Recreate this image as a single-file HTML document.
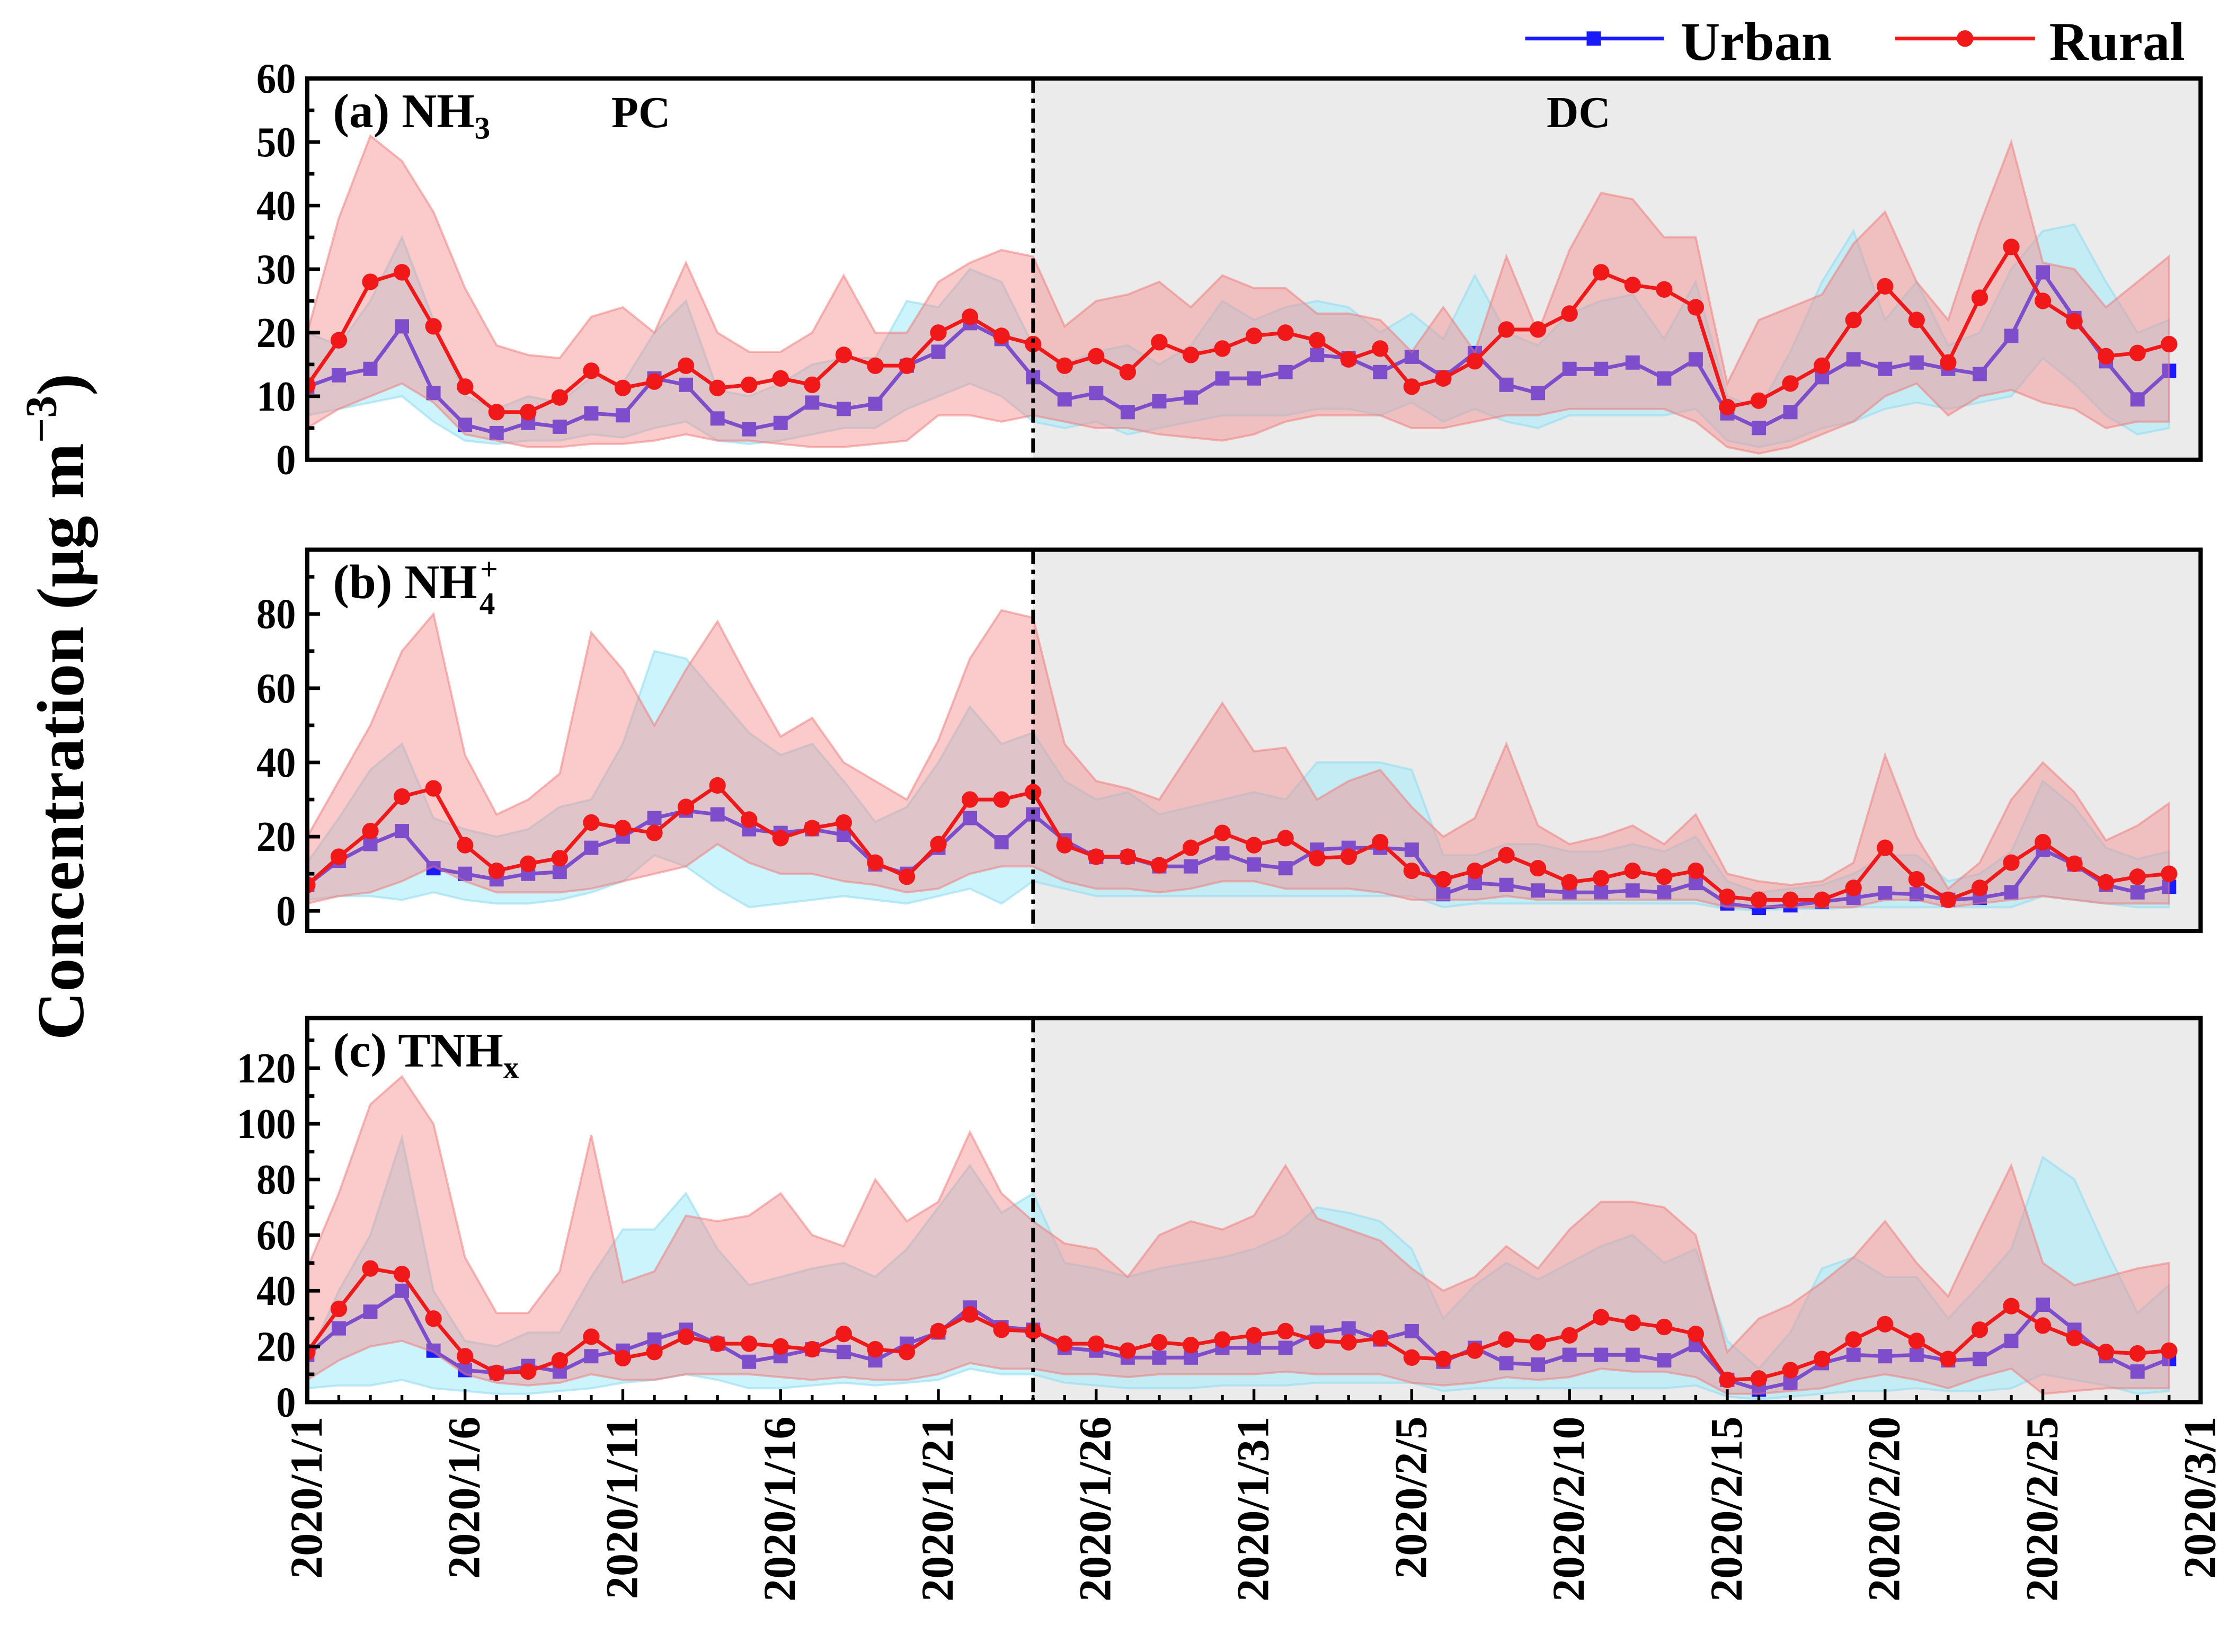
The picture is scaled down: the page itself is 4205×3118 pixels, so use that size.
<!DOCTYPE html>
<html><head><meta charset="utf-8"><style>
html,body{margin:0;padding:0;background:#fff;}
svg{display:block;font-family:"Liberation Serif",serif;font-weight:bold;}
</style></head><body>
<svg id="chart" width="4205" height="3118" viewBox="0 0 1560 1157" xmlns="http://www.w3.org/2000/svg"></svg>
<script>
const dateLabels = ["2020/1/1","2020/1/6","2020/1/11","2020/1/16","2020/1/21","2020/1/26","2020/1/31","2020/2/5","2020/2/10","2020/2/15","2020/2/20","2020/2/25","2020/3/1"];
const nh3Rural = [11.7,18.8,28,29.5,21,11.5,7.5,7.5,9.8,14,11.3,12.3,14.8,11.3,11.8,12.8,11.8,16.5,14.8,14.8,20,22.5,19.5,18.2,14.8,16.3,13.8,18.5,16.5,17.5,19.5,20,18.8,15.8,17.5,11.5,12.8,15.5,20.5,20.5,23,29.5,27.5,26.8,24,8.3,9.3,12,14.8,22,27.3,22,15.3,25.5,33.5,25,21.8,16.3,16.8,18.2];
const nh3Urban = [11.5,13.3,14.3,21,10.5,5.5,4.2,5.8,5.2,7.3,7,12.8,11.8,6.5,4.8,5.8,9,8,8.8,14.8,17,21.5,19,13,9.5,10.5,7.5,9.2,9.8,12.8,12.8,13.8,16.5,16,13.8,16.2,13,16.8,11.8,10.5,14.3,14.3,15.3,12.8,15.8,7.3,5,7.5,13,15.8,14.3,15.3,14.3,13.5,19.5,29.5,22.3,15.5,9.5,14];
const nh3RuralHi = [20,38,51,47,39,27,18,16.5,16,22.5,24,20,31,20,17,17,20,29,20,20,28,31,33,32,21,25,26,28,24,29,27,27,23,23,22,17,24,17,32,20,33,42,41,35,35,12,22,24,26,34,39,28,22,37,50,31,30,24,28,32];
const nh3RuralLo = [5,8,10,12,9,4,3,2,2,2.5,2.5,3,4,3,3,2.5,2,2,2.5,3,7,7,6,7,6,5,5,4,3.5,3,4,6,7,7,7,5,5,6,7,7,8,8,8,8,6,2,1,2,4,6,10,12,7,10,11,9,8,5,6,6];
const nh3UrbanHi = [20,18,25,35,22,10,8,10,9,13,12,20,25,11,10,12,15,16,16,25,24,30,28,18,15,17,18,15,18,25,22,24,25,24,20,23,19,29,20,18,23,25,26,19,28,10,8,17,28,36,22,28,18,20,30,36,37,28,20,22];
const nh3UrbanLo = [7,8,9,10,6,3,2.5,3,3,4,3.5,5,6,3,2.5,3,4,5,5,8,10,12,10,6,5,6,4,5,6,7,7,7,8,8,7,9,6,8,6,5,7,7,7,7,8,3,2,3,5,6,8,9,8,9,10,16,12,7,4,5];

const nh4Rural = [7,14.6,21.5,30.8,33,17.7,10.8,12.7,14.2,23.8,22.3,21,28,33.8,24.6,19.6,22.3,23.8,13,9.2,18,30,30,32,17.7,14.6,14.6,12.3,17,21,17.7,19.6,14.2,14.6,18.5,10.8,8.5,10.8,15,11.5,7.7,8.8,10.8,9.2,10.8,3.8,3,3,3,6.2,17,8.5,3,6.2,13,18.5,12.7,7.7,9.2,10];
const nh4Urban = [7,13.5,18,21.5,11.5,10,8.5,10,10.5,17,20,25,27,26,22,21,22,20.5,12.5,10,17,25,18.5,26,19,14.5,14.5,12,12,15.5,12.5,11.5,16.5,17,17,16.5,4.5,7.5,7,5.5,5,5,5.5,5,7.5,2,0.8,1.5,2.5,3.5,4.8,4.5,3,3.5,5,16.5,12.5,7,5,6.5];
const nh4RuralHi = [20,35,50,70,80,42,26,30,37,75,65,50,65,78,62,47,52,40,35,30,46,68,81,79,45,35,33,30,43,56,43,44,30,35,38,28,20,25,45,23,18,20,23,18,26,10,8,7,8,13,42,20,6,13,30,40,32,19,23,29];
const nh4RuralLo = [2,4,5,8,12,8,5,5,5,6,8,10,12,18,13,10,10,8,7,5,6,10,12,12,8,6,6,5,6,8,8,6,6,6,5,3,3,3,4,3,3,3,3,3,3,1,1,1,1,1,3,3,1,2,3,4,3,2,2,2];
const nh4UrbanHi = [13,25,38,45,25,22,20,22,28,30,45,70,68,58,48,42,45,35,24,28,40,55,45,48,35,30,32,26,28,30,32,30,40,40,40,38,15,15,18,18,16,16,18,16,20,8,5,6,7,10,15,15,8,10,16,35,28,17,14,16];
const nh4UrbanLo = [3,4,4,3,5,3,2,2,3,5,8,15,12,6,1,2,3,4,3,2,4,6,2,8,6,4,4,4,4,4,4,4,4,4,4,4,1,2,2,2,2,2,2,2,2,0.5,0.3,0.5,0.5,1,1,1,1,1,1,4,3,2,1,1];

const tnhRural = [18,33.5,48,46,30,16.5,10.5,11,15,23.5,15.8,18,23.5,21,21,20,19,24.5,19,18,25.5,31.5,26,25.5,21,21,18.5,21.5,20.5,22.5,24,25.5,22,21.5,23,16,15.5,18.5,22.5,21.5,24,30.5,28.5,27,24.5,8,8.5,11.5,15.5,22.5,28,22,15.5,26,34.5,27.5,23,18,17.5,18.5];
const tnhUrban = [17,26.5,32.5,40,18.5,11.5,10.5,13,11,16.5,18.5,22.5,26,21,14.5,16.5,19,18,15,21,25,34,27,26,19.5,18.5,16,16,16,19.5,19.5,19.5,25,26.5,22.5,25.5,14.5,19.5,14,13.5,17,17,17,15,20.5,8,4.5,7,14,17,16.5,17,15,15.5,22,35,26,16.5,11,15.5];
const tnhRuralHi = [48,75,107,117,100,52,32,32,47,96,43,47,67,65,67,75,60,56,80,65,72,97,75,65,57,55,45,60,65,62,67,85,66,62,58,48,40,45,56,48,62,72,72,70,60,18,30,35,43,52,65,50,38,62,85,50,42,45,48,50];
const tnhRuralLo = [8,15,20,22,18,10,7,6,7,10,8,8,10,10,10,9,8,9,8,8,10,14,12,12,10,10,9,10,10,10,10,11,10,10,10,7,6,7,9,8,9,12,11,11,9,3,3,4,5,8,10,8,5,9,12,3,4,5,5,5];
const tnhUrbanHi = [15,40,60,95,40,22,20,25,25,45,62,62,75,55,42,45,48,50,45,55,70,85,68,75,50,48,45,48,50,52,55,60,70,68,65,55,30,42,50,44,50,56,60,50,55,22,12,25,48,52,45,45,30,42,55,88,80,55,32,42];
const tnhUrbanLo = [5,6,6,8,5,4,3,3,4,5,7,8,10,8,5,5,6,7,6,7,8,12,10,10,7,6,5,5,5,6,6,6,7,7,7,7,4,5,5,5,5,5,5,5,6,2,1,2,3,4,4,5,4,4,5,10,8,6,3,4];

const NS="http://www.w3.org/2000/svg";
const svg=document.getElementById('chart');
function mk(tag,attrs,parent){const e=document.createElementNS(NS,tag);for(const k in attrs)e.setAttribute(k,attrs[k]);(parent||svg).appendChild(e);return e;}
const X0=215,X1=1541;
const xs=d=>X0+d*(X1-X0)/60;
const panels=[
 {key:'nh3',top:55,bot:322,yTop:60,ticks:[0,10,20,30,40,50,60],minor:5,label:'(a) NH',sub:'3',sup:null,rural:nh3Rural,urban:nh3Urban,rh:nh3RuralHi,rl:nh3RuralLo,uh:nh3UrbanHi,ul:nh3UrbanLo},
 {key:'nh4',top:385,bot:652,ymin:-5.4,yTop:97.3,ticks:[0,20,40,60,80],minor:10,label:'(b) NH',sub:'4',sup:'+',rural:nh4Rural,urban:nh4Urban,rh:nh4RuralHi,rl:nh4RuralLo,uh:nh4UrbanHi,ul:nh4UrbanLo},
 {key:'tnh',top:713,bot:982,ymin:0,yTop:138,ticks:[0,20,40,60,80,100,120],minor:10,label:'(c) TNH',sub:'x',sup:null,rural:tnhRural,urban:tnhUrban,rh:tnhRuralHi,rl:tnhRuralLo,uh:tnhUrbanHi,ul:tnhUrbanLo}
];
panels.forEach(p=>{
 const ymin=p.ymin||0;
 const ys=v=>p.bot-(v-ymin)/(p.yTop-ymin)*(p.bot-p.top);
 const g=mk('g',{});
 
 
 const clipId='clip-'+p.key;
 const cp=mk('clipPath',{id:clipId},g);mk('rect',{x:X0,y:p.top,width:X1-X0,height:p.bot-p.top},cp);
 const dc=mk('rect',{x:xs(23),y:p.top,width:X1-xs(23),height:p.bot-p.top,fill:'#ebebeb'},g);
 
 
 const pg=mk('g',{'clip-path':'url(#'+clipId+')'},g);
 function band(hi,lo,fill,stroke,name){
  let d='';hi.forEach((v,i)=>{d+=(i?'L':'M')+xs(i).toFixed(1)+','+ys(v).toFixed(1);});
  for(let i=lo.length-1;i>=0;i--)d+='L'+xs(i).toFixed(1)+','+ys(lo[i]).toFixed(1);
  const e=mk('path',{d:d+'Z',fill:fill,stroke:stroke,'stroke-width':1.5},pg);
  
  
 }
 function line(vals,color,name){
  const e=mk('polyline',{points:vals.map((v,i)=>xs(i).toFixed(1)+','+ys(v).toFixed(1)).join(' '),fill:'none',stroke:color,'stroke-width':2.6},pg);
  
  
 }
 band(p.uh,p.ul,'rgba(170,236,250,0.6)','rgba(150,220,240,0.6)','urban-range-band');
 line(p.urban,'#1a1aff','urban-line');
 p.urban.forEach((v,i)=>{
  const m=mk('rect',{x:xs(i)-5,y:ys(v)-5,width:10,height:10,fill:'#1a1aff'},pg);
  
  
 });
 band(p.rh,p.rl,'rgba(246,140,140,0.45)','rgba(240,120,120,0.5)','rural-range-band');
 line(p.rural,'#f01818','rural-line');
 p.rural.forEach((v,i)=>{
  const m=mk('circle',{cx:xs(i),cy:ys(v),r:5.8,fill:'#f01818'},pg);
  
  
 });
 const dv=mk('line',{x1:xs(23),x2:xs(23),y1:p.top,y2:p.bot,stroke:'#000','stroke-width':2.5,'stroke-dasharray':'10,4,3,4'},g);
 
 
 for(let v=ymin<0?0:ymin;v<=p.yTop;v+=p.minor){
  const isMajor=p.ticks.includes(v);
  mk('line',{x1:X0,x2:X0+(isMajor?9:5),y1:ys(v),y2:ys(v),stroke:'#000','stroke-width':2.5},g);
 }
 p.ticks.forEach(t=>{
  const tl=mk('text',{x:X0-8,y:ys(t)+10,'text-anchor':'end','font-size':30,transform:'translate('+(X0-8)+',0) scale(0.92,1) translate('+(-(X0-8))+',0)'},g);
  tl.textContent=t;
  
  
 });
 const fr=mk('rect',{x:X0,y:p.top,width:X1-X0,height:p.bot-p.top,fill:'none',stroke:'#000','stroke-width':3},g);
 
 
 const lab=mk('text',{x:233,y:p.top+34,'font-size':34},g);
 
 
 lab.appendChild(document.createTextNode(p.label));
 if(p.sup){const s=mk('tspan',{'font-size':22,dx:2,dy:-13},lab);s.textContent=p.sup;const s2=mk('tspan',{'font-size':22,dx:-13,dy:24},lab);s2.textContent=p.sub;}
 else{const s=mk('tspan',{'font-size':22,dy:8},lab);s.textContent=p.sub;}
 if(p.key==='nh3'){
  const a=mk('text',{x:428,y:89,'font-size':31},g);a.textContent='PC';
  
  const b=mk('text',{x:1083,y:89,'font-size':31},g);b.textContent='DC';
  
 }
 if(p.key==='tnh'){
  for(let d=0;d<=60;d++){mk('line',{x1:xs(d),x2:xs(d),y1:p.bot,y2:p.bot-(d%5===0?9:5),stroke:'#000','stroke-width':2},g);}
  dateLabels.forEach((t,i)=>{
   const x=xs(i*5)+10,y=992;
   const tx=mk('text',{x:x,y:y,transform:'rotate(-90 '+x+' '+y+')','text-anchor':'end','font-size':32});
   tx.textContent=t;
   
   
  });
 }
});
const yl=mk('text',{x:58,y:495,transform:'rotate(-90 58 495)','text-anchor':'middle','font-size':47});


yl.appendChild(document.createTextNode('Concentration (μg m'));
const ys1=mk('tspan',{'font-size':31,dy:-19},yl);ys1.textContent='−3';
const ys2=mk('tspan',{dy:19},yl);ys2.textContent=')';
const lg=mk('g',{});


mk('line',{x1:1068,x2:1165,y1:27,y2:27,stroke:'#1a1aff','stroke-width':2.6},lg);
mk('rect',{x:1111,y:22,width:10,height:10,fill:'#1a1aff'},lg);
const lu=mk('text',{x:1177,y:42,'font-size':38},lg);lu.textContent='Urban';

mk('line',{x1:1327,x2:1425,y1:27,y2:27,stroke:'#f01818','stroke-width':2.6},lg);
mk('circle',{cx:1376,cy:27,r:5.8,fill:'#f01818'},lg);
const lr=mk('text',{x:1435,y:42,'font-size':38},lg);lr.textContent='Rural';

</script>
</body></html>
